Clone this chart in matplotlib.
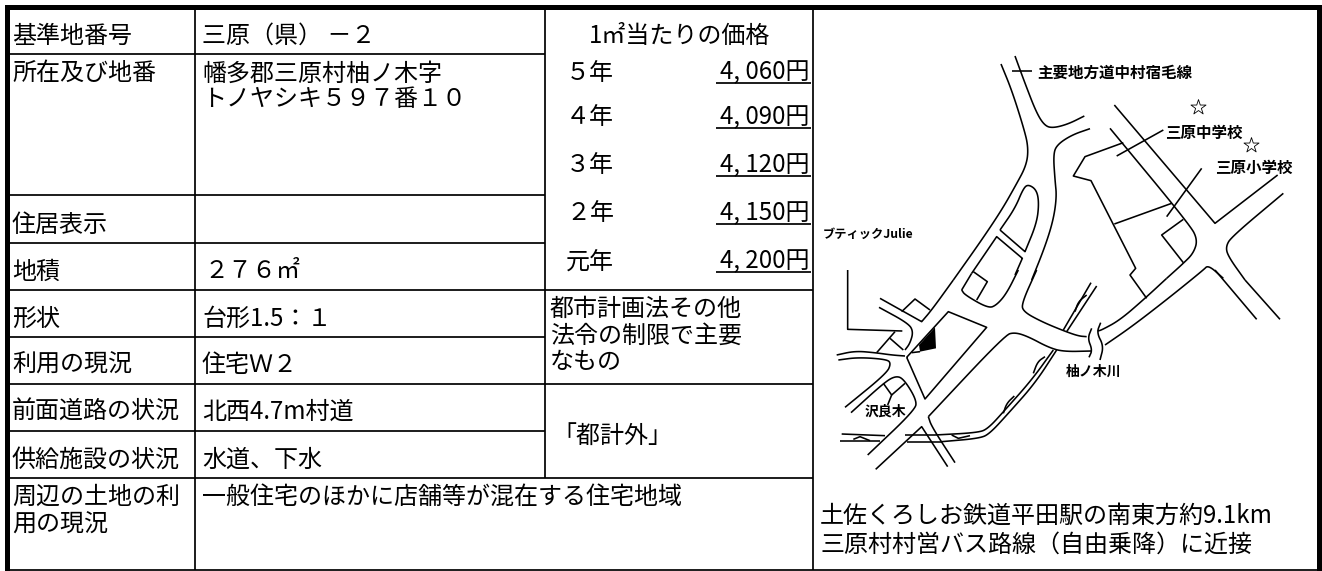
import matplotlib

matplotlib.use("Agg")
import matplotlib.pyplot as plt

plt.rcParams["font.family"] = ["Noto Sans CJK JP", "DejaVu Sans"]

WIDTH = 1322
HEIGHT = 571
TEXT_SIZE = 17.3
TEXT_NUDGE = 2.5

# table text: (x, y, string)
left_labels = [
    (12, 33, "基準地番号"),
    (12, 70, "所在及び地番"),
    (12, 222, "住居表示"),
    (12, 269, "地積"),
    (12, 316, "形状"),
    (12, 362, "利用の現況"),
    (12, 409, "前面道路の状況"),
    (12, 457, "供給施設の状況"),
    (12, 494, "周辺の土地の利"),
    (12, 522, "用の現況"),
]
middle_values = [
    (202, 33, "三原（県） －２"),
    (202, 71, "幡多郡三原村柚ノ木字"),
    (202, 97, "トノヤシキ５９７番１０"),
    (204, 269, "２７６㎡"),
    (202, 316, "台形1.5：１"),
    (202, 362, "住宅Ｗ２"),
    (202, 409, "北西4.7m村道"),
    (202, 457, "水道、下水"),
    (202, 494, "一般住宅のほかに店舗等が混在する住宅地域"),
]
restriction_text = [
    (550, 306, "都市計画法その他"),
    (550, 333, "法令の制限で主要"),
    (550, 360, "なもの"),
    (552, 433, "「都計外」"),
]
access_text = [
    (820, 513, "土佐くろしお鉄道平田駅の南東方約9.1km"),
    (820, 542, "三原村村営バス路線（自由乗降）に近接"),
]
price_title = "1㎡当たりの価格"
price_years = ["５年", "４年", "３年", "２年", "元年"]
price_values = ["4, 060円", "4, 090円", "4, 120円", "4, 150円", "4, 200円"]
price_rows = [70, 115, 163, 211, 259]

# table rules: (y, x0, x1) and (x, y0, y1)
h_rules = [
    (54, 10, 545), (195, 10, 545), (243, 10, 545), (290, 10, 813),
    (337, 10, 545), (384, 10, 813), (431, 10, 545), (478, 10, 813),
    (570, 10, 1318),
]
v_rules = [(195, 9, 570), (545, 9, 478), (813, 9, 570)]

# map roads, traced in two sheets of the reference
upper_curved = [
    [(558, 72), (590, 150), (625, 260), (640, 320), (635, 375), (600, 440), (560, 510), (500, 600), (415, 720)],
    [(600, 48), (630, 130), (665, 220), (690, 258), (715, 264), (760, 252), (808, 228)],
    [(825, 266), (770, 285), (725, 315), (715, 345), (720, 420), (725, 470), (715, 540), (690, 620), (650, 720)],
    [(885, 265), (1125, 555), (1148, 600), (1135, 640), (1105, 670), (1055, 715)],
    [(1405, 460), (1250, 590), (1232, 620), (1240, 650), (1290, 720)],
    [(555, 570), (600, 505), (625, 445), (640, 433), (665, 450), (672, 490), (665, 550), (630, 635), (630, 635), (555, 570), (555, 570)],
    [(470, 700), (545, 590), (545, 590), (622, 655), (622, 655), (600, 705)],
]
upper_straight = [
    [(898, 195), (1200, 550), (1388, 405)],
    [(905, 348), (1045, 270)],
    [(925, 308), (810, 350), (775, 408), (828, 422), (962, 685), (945, 705), (995, 775)],
    [(898, 552), (1070, 490)],
    [(1055, 530), (1160, 385)],
    [(1105, 538), (1040, 585), (1105, 668)],
    [(590, 92), (650, 92)],
]
lower_curved = [
    [(415, 30), (350, 120), (320, 155), (320, 155), (195, 85)],
    [(665, 0), (620, 100), (625, 125), (680, 155), (745, 182), (790, 198), (815, 200)],
    [(1055, 25), (990, 85), (915, 150), (860, 180), (848, 183)],
    [(1225, 25), (1180, -15), (1165, 0), (1060, 85), (950, 170), (870, 225)],
    [(440, 60), (450, 75), (520, 115), (545, 105), (575, 70), (610, 0)],
    [(192, 112), (280, 160), (295, 185), (285, 220), (270, 240)],
    [(65, 255), (120, 243), (180, 248), (230, 255), (270, 258)],
    [(70, 270), (130, 262), (215, 268), (228, 280), (215, 310), (90, 412)],
    [(108, 428), (205, 340), (240, 318), (265, 325), (305, 390), (300, 420), (158, 555)],
    [(340, 440), (350, 470), (420, 578)],
    [(340, 440), (570, 195), (600, 187), (640, 200), (700, 232), (745, 245), (830, 243)],
    [(830, 175), (818, 205), (832, 240), (822, 262)],
    [(857, 158), (845, 188), (866, 228), (855, 270)],
    [(715, 240), (650, 330), (570, 420), (520, 475), (490, 488), (360, 495)],
    [(725, 240), (660, 340), (580, 430), (525, 490), (495, 505), (380, 515)],
    [(780, 125), (790, 95), (815, 75)],
    [(655, 310), (668, 275), (690, 260)],
    [(565, 430), (575, 400), (598, 378)],
]
lower_straight = [
    [(1200, 0), (1325, 148)],
    [(1290, 30), (1395, 148)],
    [(470, 10), (440, 60)],
    [(475, 5), (517, 35), (485, 90)],
    [(98, 0), (98, 178), (262, 183)],
    [(260, 125), (300, 87), (345, 120)],
    [(185, 248), (240, 185)],
    [(225, 205), (265, 240)],
    [(275, 262), (400, 125), (515, 172), (330, 387), (275, 262)],
    [(182, 598), (320, 470), (398, 590)],
    [(828, 38), (745, 180)],
    [(845, 48), (755, 185)],
    [(80, 492), (210, 497)],
    [(75, 513), (195, 513)],
    [(270, 495), (360, 495)],
    [(275, 515), (380, 515)],
    [(205, 340), (230, 375), (270, 340)],
    [(230, 375), (218, 405)],
    [(115, 508), (135, 500), (165, 512)],
    [(410, 495), (430, 505), (465, 497)],
    [(290, 248), (315, 245)],
]
site_parcel = [(360, 172), (363, 235), (315, 245), (312, 225)]
star_points = [(1148, 200), (1307, 315)]
map_labels = [
    (1037, 73, "主要地方道中村宿毛線", 11.2),
    (1165, 133, "三原中学校", 11.2),
    (1215, 168, "三原小学校", 11.2),
    (823, 234, "ブティックJulie", 8.8),
    (1066, 372, "柚ノ木川", 10),
    (865, 412, "沢良木", 10),
]


def _chaikin(points, rounds=3):
    for _ in range(rounds):
        smoothed = [points[0]]
        for (x0, y0), (x1, y1) in zip(points[:-1], points[1:]):
            smoothed.append((0.75 * x0 + 0.25 * x1, 0.75 * y0 + 0.25 * y1))
            smoothed.append((0.25 * x0 + 0.75 * x1, 0.25 * y0 + 0.75 * y1))
        smoothed.append(points[-1])
        points = smoothed
    return points


def _to_px(points, top):
    return [(815 + x / 3, top + y / 3) for x, y in points]


def _draw_line(ax, points):
    xs = [p[0] for p in points]
    ys = [p[1] for p in points]
    ax.plot(xs, ys, color="black", lw=1.15, solid_capstyle="butt", solid_joinstyle="round")


def _draw_table(ax):
    ax.fill_between([5, 1322], 5, 9.5, color="black", lw=0)
    ax.fill_between([5, 10], 5, 571, color="black", lw=0)
    ax.fill_between([1317, 1322], 5, 571, color="black", lw=0)
    for y, x0, x1 in h_rules:
        ax.plot([x0, x1], [y, y], color="black", lw=1.25, solid_capstyle="butt")
    for x, y0, y1 in v_rules:
        ax.plot([x, x], [y0, y1], color="black", lw=1.25, solid_capstyle="butt")

    for x, y, label in left_labels + middle_values + restriction_text + access_text:
        ax.text(x, y + TEXT_NUDGE, label, fontsize=TEXT_SIZE, va="center", ha="left", color="black")

    ax.text(680, 33 + TEXT_NUDGE, price_title, fontsize=TEXT_SIZE, va="center", ha="center", color="black")
    for year, value, y in zip(price_years, price_values, price_rows):
        ax.text(566, y + TEXT_NUDGE, year, fontsize=TEXT_SIZE, va="center", ha="left", color="black")
        ax.text(809, y + TEXT_NUDGE, value, fontsize=TEXT_SIZE, va="center", ha="right", color="black")
        ax.plot([716, 811], [y + 13, y + 13], color="black", lw=1.25, solid_capstyle="butt")


def _draw_map(ax):
    for points in upper_curved:
        _draw_line(ax, _chaikin(_to_px(points, 40)))
    for points in upper_straight:
        _draw_line(ax, _to_px(points, 40))
    for points in lower_curved:
        _draw_line(ax, _chaikin(_to_px(points, 270)))
    for points in lower_straight:
        _draw_line(ax, _to_px(points, 270))

    parcel = _to_px(site_parcel, 270)
    ax.fill([p[0] for p in parcel], [p[1] for p in parcel], color="black", lw=0)

    stars = _to_px(star_points, 40)
    ax.scatter([s[0] for s in stars], [s[1] for s in stars], marker="*", s=130,
               facecolor="white", edgecolor="black", linewidth=0.6, zorder=3)

    for x, y, label, size in map_labels:
        ax.text(x, y, label, fontsize=size, fontweight="bold", va="center", ha="left", color="black")


def main() -> None:
    fig = plt.figure(figsize=(WIDTH / 100, HEIGHT / 100), dpi=100)
    ax = fig.add_axes([0, 0, 1, 1])
    ax.set_xlim(0, WIDTH)
    ax.set_ylim(HEIGHT, 0)
    ax.axis("off")

    _draw_table(ax)
    _draw_map(ax)

    fig.savefig("out.png", dpi=100)
    plt.close(fig)


if __name__ == "__main__":
    main()
